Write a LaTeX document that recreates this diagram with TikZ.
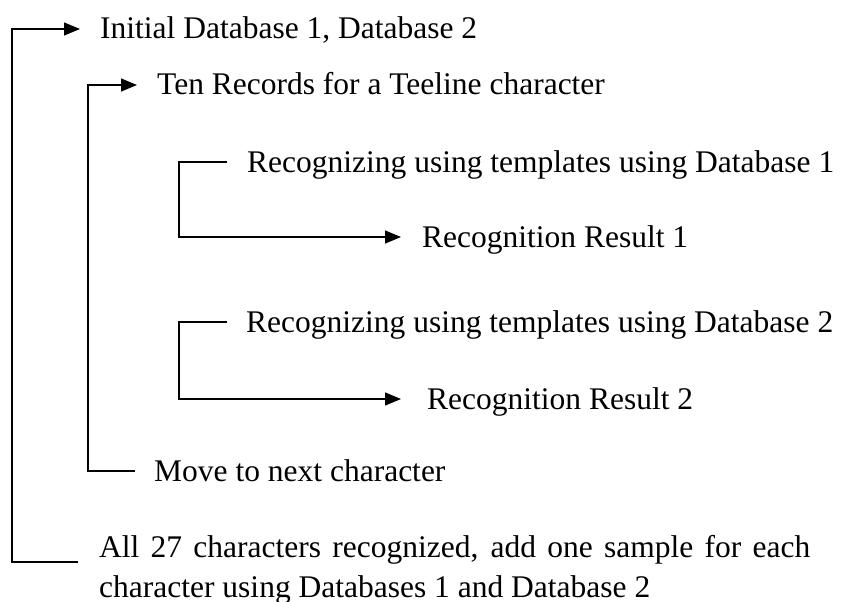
\documentclass[tikz,border=0pt]{standalone}
\usepackage{fontspec}
\setmainfont{Liberation Serif}
\usetikzlibrary{arrows.meta}
\begin{document}
\begin{tikzpicture}[x=1pt,y=-1pt,
  txt/.style={font=\fontsize{31.5}{40}\selectfont},
  lbl/.style={txt,anchor=west,inner sep=0pt,text height=20pt,text depth=0pt},
  link/.style={line width=1.3pt},
  arr/.style={link,-{Triangle[length=16pt,width=13pt]}}]
\useasboundingbox (0,0) rectangle (846,602);

% steps of the procedure
\node[lbl] (init) at (100,29)  {Initial Database 1, Database 2};
\node[lbl] (ten)  at (157,85)  {Ten Records for a Teeline character};
\node[lbl] (rec1) at (247,162) {Recognizing using templates using Database 1};
\node[lbl] (res1) at (422,237) {Recognition Result 1};
\node[lbl] (rec2) at (246,322) {Recognizing using templates using Database 2};
\node[lbl] (res2) at (427,399) {Recognition Result 2};
\node[lbl] (move) at (154,471) {Move to next character};
\node[txt,anchor=north west,inner sep=0pt,align=left] (all) at (99,535)
  {\hbox to 711pt{All 27 characters recognized, add one sample for each}\\character using Databases 1 and Database 2};

% columns of the loop brackets
\coordinate (outerX) at (12,0);
\coordinate (innerX) at (88,0);
\coordinate (recX)   at (179,0);
\coordinate (allIn)  at ([yshift=-27pt]all.north west);

% loops
\draw[arr,shorten <=21pt,shorten >=20pt] (allIn) -| (outerX |- init.west) -- (init.west);
\draw[arr,shorten <=19pt,shorten >=20pt] (move.west) -| (innerX |- ten.west) -- (ten.west);
\draw[arr,shorten <=20pt,shorten >=21pt] (rec1.west) -| (recX |- res1.west) -- (res1.west);
\draw[arr,shorten <=19pt,shorten >=26pt] (rec2.west) -| (recX |- res2.west) -- (res2.west);
\end{tikzpicture}
\end{document}
